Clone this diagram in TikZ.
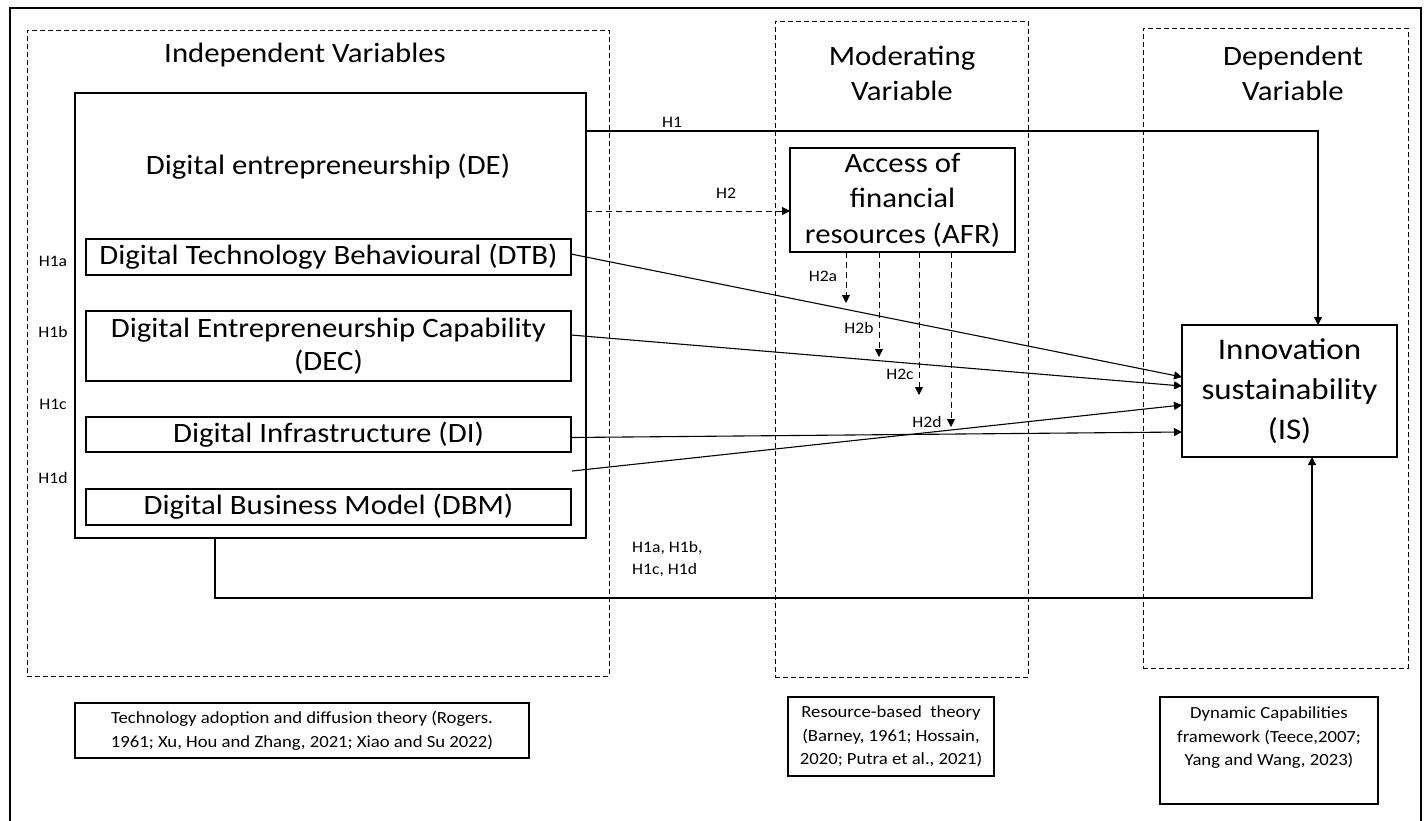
\documentclass[tikz,border=0pt]{standalone}
\usepackage{fontspec}
\setmainfont{Carlito}[FakeStretch=1.1]
\usetikzlibrary{arrows.meta,calc}
\newcommand{\fsbig}{\fontsize{28}{33}\selectfont}
\newcommand{\fsis}{\fontsize{30}{40}\selectfont}
\newcommand{\fsafr}{\fontsize{28}{35.5}\selectfont}
\newcommand{\fstitle}{\fontsize{28}{35}\selectfont}
\newcommand{\fslab}{\fontsize{16}{22}\selectfont}
\newcommand{\fsref}{\fontsize{17}{23.5}\selectfont}

\begin{document}
\begin{tikzpicture}[x=1pt,y=-1pt,
  frame/.style={line width=2pt},
  group/.style={draw, line width=0.9pt, dash pattern=on 5pt off 3pt, inner sep=0pt, outer sep=0pt},
  box/.style={draw, line width=1.2pt, inner sep=0pt, outer sep=0pt, align=center, font=\fsbig},
  refbox/.style={draw, line width=1.2pt, inner sep=0pt, outer sep=0pt},
  reftext/.style={font=\fsref, align=center, inner sep=0pt},
  title/.style={font=\fstitle, align=center, inner sep=0pt},
  hlab/.style={font=\fslab, inner sep=0pt},
  link/.style={line width=1.1pt, -{Triangle[length=8pt,width=8pt]}},
  mod/.style={line width=0.9pt, -{Triangle[length=8pt,width=8pt]}, dash pattern=on 6pt off 4pt},
]
\useasboundingbox (0,0) rectangle (1426,820);

% outer frame (open at the bottom edge)
\draw[frame] (10,822) -- (10,8) -- (1421,8) -- (1421,822);

% variable groups
\node[group, minimum width=582pt, minimum height=646pt] (IVg) at (318,353) {};
\node[group, minimum width=253pt, minimum height=656pt] (MVg) at (901.5,349) {};
\node[group, minimum width=265pt, minimum height=640pt] (DVg) at (1275.5,348) {};

\node[title] (tIV) at (305,55) {Independent Variables};
\node[title] (tMV) at (902,73) {Moderating\\Variable};
\node[title] (tDV) at (1293,73) {Dependent\\Variable};

% constructs
\node[box, minimum width=511pt, minimum height=445pt] (DE) at (330.5,315.5) {};
\node[font=\fsbig, inner sep=0pt] (DEtxt) at (328,167) {Digital entrepreneurship (DE)};
\node[box, minimum width=485pt, minimum height=36pt] (DTB) at (328.5,257) {Digital Technology Behavioural (DTB)};
\node[box, minimum width=485pt, minimum height=70pt] (DEC) at (328.5,346) {Digital Entrepreneurship Capability\\(DEC)};
\node[box, minimum width=485pt, minimum height=35pt] (DI) at (328.5,434.5) {Digital Infrastructure (DI)};
\node[box, minimum width=485pt, minimum height=36pt] (DBM) at (328.5,507) {Digital Business Model (DBM)};
\node[box, font=\fsafr, minimum width=225pt, minimum height=104pt] (AFR) at (902.5,200) {Access of\\financial\\resources (AFR)};
\node[box, font=\fsis, minimum width=215pt, minimum height=132pt] (IS) at (1289.5,391) {Innovation\\sustainability\\(IS)};

% hypothesis labels
\node[hlab] (lH1a) at (53,261) {H1a};
\node[hlab] (lH1b) at (53,332) {H1b};
\node[hlab] (lH1c) at (53,404) {H1c};
\node[hlab] (lH1d) at (53,478) {H1d};
\node[hlab] (lH1) at (672,122) {H1};
\node[hlab] (lH2) at (726,193) {H2};
\node[hlab] (lH2a) at (823,276) {H2a};
\node[hlab] (lH2b) at (859,328) {H2b};
\node[hlab] (lH2c) at (900,374) {H2c};
\node[hlab] (lH2d) at (927,422) {H2d};
\node[hlab, align=left, anchor=west] (lH1all) at (632,559) {H1a, H1b,\\H1c, H1d};

% direct effects
\draw[link] ($(DE.north east)+(0,38)$) -| ($(IS.north)+(28.5,0)$);
\draw[link] ($(DTB.east)+(0,-3)$) -- ($(IS.west)+(0,-14)$);
\draw[link] ($(DEC.east)+(0,-11)$) -- ($(IS.west)+(0,-5)$);
\draw[link] ($(DI.east)+(0,3)$) -- ($(IS.west)+(0,41)$);
\draw[link] ($(DE.south east)+(-14,-67)$) -- ($(IS.west)+(0,14)$);
\draw[link] ($(DE.south west)+(140,0)$) -- ++(0,60) -| ($(IS.south)+(22.5,0)$);

% moderation
\coordinate (h2s) at ($(DE.north east)+(0,118)$);
\draw[mod] (h2s) -- (h2s -| AFR.west);
\coordinate (e2a) at (846,303);
\coordinate (e2b) at (879,357);
\coordinate (e2c) at (919,395);
\coordinate (e2d) at (951,427);
\draw[mod] (AFR.south -| e2a) -- (e2a);
\draw[mod] (AFR.south -| e2b) -- (e2b);
\draw[mod] (AFR.south -| e2c) -- (e2c);
\draw[mod] (AFR.south -| e2d) -- (e2d);

% underpinning theories
\node[refbox, reftext, minimum width=454pt, minimum height=55pt] (TAD) at (302,730.5) {Technology adoption and diffusion theory (Rogers.\\1961; Xu, Hou and Zhang, 2021; Xiao and Su 2022)};
\node[refbox, reftext, minimum width=206pt, minimum height=79pt] (RBT) at (891,736.5) {Resource-based\ \ theory\\(Barney, 1961; Hossain,\\2020; Putra et al., 2021)};
\node[refbox, minimum width=218pt, minimum height=107pt] (DCF) at (1269,750.5) {};
\node[reftext] (DCFtxt) at (1269,738) {Dynamic Capabilities\\framework (Teece,2007;\\Yang and Wang, 2023)};
\end{tikzpicture}
\end{document}
